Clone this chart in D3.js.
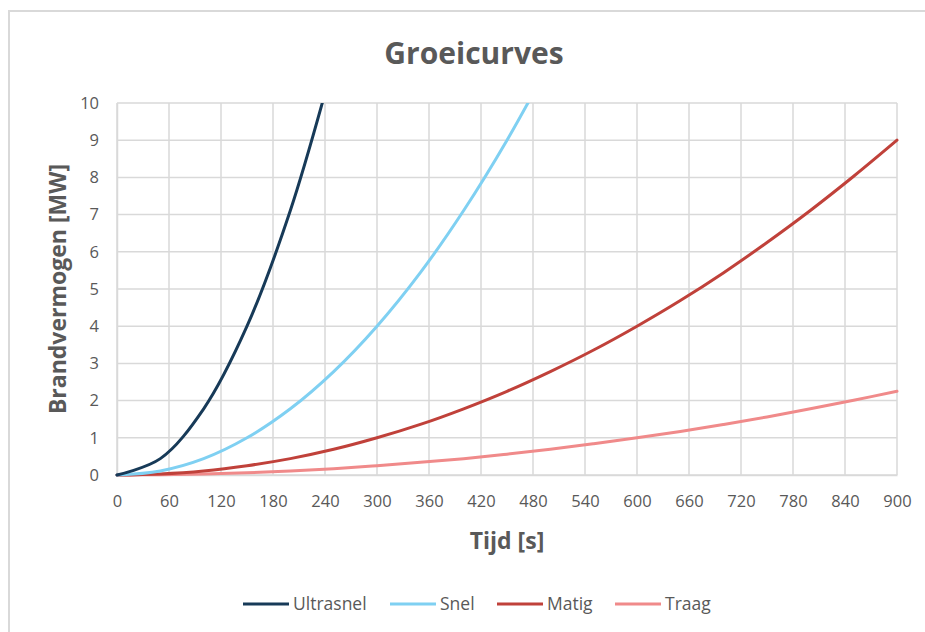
<!DOCTYPE html>
<html>
<head>
<meta charset="utf-8">
<script src="https://cdn.jsdelivr.net/npm/d3@7"></script>
<style>
  html, body { margin: 0; padding: 0; background: #fff; }
  svg { display: block; }
</style>
</head>
<body>
<svg id="chart" width="925" height="632"></svg>
<script>
// ---- Data ----
const tijd = [0, 50, 100, 150, 200, 250, 300, 350, 400, 450, 500, 550, 600, 650, 700, 750, 800, 850, 900];
const ultrasnel = [0, 0.44, 1.78, 4.0, 7.11, 11.11];
const snel = [0, 0.11, 0.44, 1.0, 1.78, 2.78, 4.0, 5.44, 7.11, 9.0, 11.11];
const matig = [0, 0.03, 0.11, 0.25, 0.44, 0.69, 1.0, 1.36, 1.78, 2.25, 2.78, 3.36, 4.0, 4.69, 5.44, 6.25, 7.11, 8.03, 9.0];
const traag = [0, 0.01, 0.03, 0.06, 0.11, 0.17, 0.25, 0.34, 0.44, 0.56, 0.69, 0.84, 1.0, 1.17, 1.36, 1.56, 1.78, 2.01, 2.25];
const seriesNames = ["Ultrasnel", "Snel", "Matig", "Traag"];
const seriesColors = ["#173a58", "#7fd0f2", "#c0413a", "#f08a8a"];
const xTicks = [0, 60, 120, 180, 240, 300, 360, 420, 480, 540, 600, 660, 720, 780, 840, 900];
const yTicks = [0, 1, 2, 3, 4, 5, 6, 7, 8, 9, 10];
const titleText = "Groeicurves";
const xTitle = "Tijd [s]";
const yTitle = "Brandvermogen [MW]";

const seriesValues = [ultrasnel, snel, matig, traag];

(function () {
  const svg = d3.select("#chart");
  const font = "'Open Sans', 'Liberation Sans', sans-serif";
  const boldFont = "'Open Sans', 'Liberation Sans', sans-serif";
  const textColor = "#595959";

  // outer chart border
  svg.append("rect")
    .attr("x", 9).attr("y", 11).attr("width", 940).attr("height", 640)
    .attr("fill", "none").attr("stroke", "#d9d9d9").attr("stroke-width", 2);

  const pL = 117, pR = 897, pT = 103, pB = 475;
  const x = d3.scaleLinear().domain([0, 900]).range([pL, pR]);
  const y = d3.scaleLinear().domain([0, 10]).range([pB, pT]);

  // gridlines
  const grid = svg.append("g");
  grid.selectAll("line.v").data(xTicks).enter().append("line").attr("class", "v")
    .attr("x1", d => x(d)).attr("x2", d => x(d))
    .attr("y1", pT).attr("y2", pB)
    .attr("stroke", "#d9d9d9").attr("stroke-width", 1.5);
  grid.selectAll("line.h").data(yTicks).enter().append("line").attr("class", "h")
    .attr("x1", pL).attr("x2", pR)
    .attr("y1", d => y(d)).attr("y2", d => y(d))
    .attr("stroke", "#d9d9d9").attr("stroke-width", 1.5);

  // axes (labels only)
  const xAxis = svg.append("g").attr("transform", `translate(0,${pB})`)
    .call(d3.axisBottom(x).tickValues(xTicks).tickSize(0).tickPadding(20));
  xAxis.select(".domain").attr("stroke", "#d9d9d9").attr("stroke-width", 1.5);
  xAxis.selectAll("text").attr("font-family", font).attr("font-size", 16.5).attr("fill", textColor);

  const yAxis = svg.append("g").attr("transform", `translate(${pL},0)`)
    .call(d3.axisLeft(y).tickValues(yTicks).tickSize(0).tickPadding(18));
  yAxis.select(".domain").attr("stroke", "#d9d9d9").attr("stroke-width", 1.5);
  yAxis.selectAll("text").attr("font-family", font).attr("font-size", 16.5).attr("fill", textColor);

  // clip
  svg.append("clipPath").attr("id", "plotclip").append("rect")
    .attr("x", pL - 2).attr("y", pT).attr("width", pR - pL + 4).attr("height", pB - pT + 3);

  const line = d3.line()
    .x((d, i) => x(tijd[i]))
    .y(d => y(d))
    .curve(d3.curveCatmullRom.alpha(0.5));

  const lines = svg.append("g").attr("clip-path", "url(#plotclip)");
  for (let k = seriesValues.length - 1; k >= 0; k--) {
    lines.append("path")
      .datum(seriesValues[k])
      .attr("d", line)
      .attr("fill", "none")
      .attr("stroke", seriesColors[k])
      .attr("stroke-width", 3)
      .attr("stroke-linecap", "round");
  }

  // title
  svg.append("text").attr("x", 474).attr("y", 64).attr("text-anchor", "middle")
    .attr("font-family", boldFont).attr("font-weight", "bold").attr("font-size", 30)
    .attr("fill", textColor).text(titleText);

  // axis titles
  svg.append("text").attr("x", 507).attr("y", 549).attr("text-anchor", "middle")
    .attr("font-family", boldFont).attr("font-weight", "bold").attr("font-size", 23)
    .attr("fill", textColor).text(xTitle);
  svg.append("text").attr("transform", `translate(66,${(pT + pB) / 2}) rotate(-90)`)
    .attr("text-anchor", "middle")
    .attr("font-family", boldFont).attr("font-weight", "bold").attr("font-size", 23)
    .attr("fill", textColor).text(yTitle);

  // legend
  const legendX = [243, 390, 497, 615];
  const legend = svg.append("g");
  seriesNames.forEach((name, i) => {
    const g = legend.append("g").attr("transform", `translate(${legendX[i]},604)`);
    g.append("line").attr("x1", 0).attr("x2", 46).attr("y1", 0).attr("y2", 0)
      .attr("stroke", seriesColors[i]).attr("stroke-width", 3);
    g.append("text").attr("x", 50).attr("y", 6)
      .attr("font-family", font).attr("font-size", 17.5).attr("fill", textColor).text(name);
  });
})();
</script>
</body>
</html>
